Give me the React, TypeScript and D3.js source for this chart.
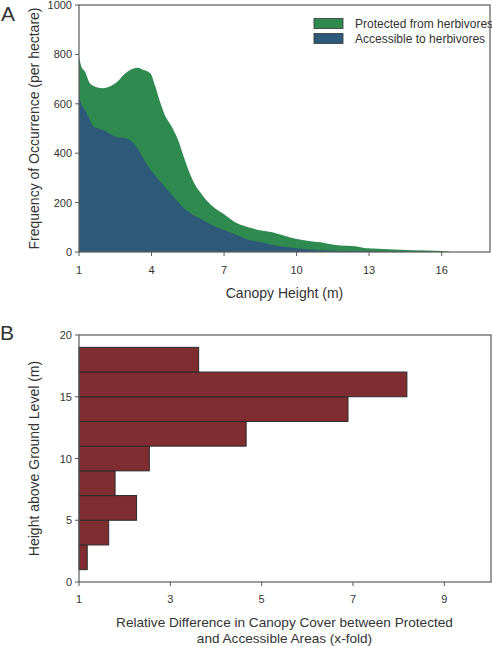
import React from "react";
import * as d3 from "d3";

const heights = [1, 1.1, 1.25, 1.45, 1.6, 2, 2.5, 3, 3.45, 3.6, 3.95, 4.15, 4.35, 4.55, 4.85, 5.1, 5.3, 5.7, 6.15, 6.55, 7, 7.5, 8, 8.6, 9, 9.5, 10, 10.5, 11, 11.6, 12.5, 12.9, 13.8, 14.8, 16, 16.4, 18];
const protectedFreq = [791, 750, 730, 683, 672, 663, 683, 730, 746, 740, 724, 672, 608, 555, 505, 453, 395, 291, 224, 183, 153, 118, 100, 86, 80, 66, 53, 45, 39, 28, 22, 15, 11, 7, 4, 0, 0];
const accessibleFreq = [629, 597, 575, 534, 507, 494, 467, 459, 415, 390, 335, 310, 286, 263, 230, 202, 181, 151, 129, 106, 89, 70, 50, 38, 28, 21, 15, 11, 8, 5, 4, 3, 2, 1, 0, 0, 0];
const aTicksX = [1, 4, 7, 10, 13, 16];
const aTicksY = [0, 200, 400, 600, 800, 1000];
const legendLabels = ["Protected from herbivores", "Accessible to herbivores"];

const binStart = [1, 3, 5, 7, 9, 11, 13, 15, 17];
const binEnd = [3, 5, 7, 9, 11, 13, 15, 17, 19];
const relDiff = [1.18, 1.65, 2.26, 1.79, 2.54, 4.66, 6.89, 8.18, 3.62];
const bTicksX = [1, 3, 5, 7, 9];
const bTicksY = [0, 5, 10, 15, 20];

const GREEN = "#2e8a4f";
const BLUE = "#2d5a78";
const RED = "#7f2d30";
const AXIS = "#5a5a5a";
const TEXT = "#333";
const FONT = "Arial, 'Liberation Sans', sans-serif";

export default function App() {
  const L = 79, R = 490;
  const aTop = 5, aBot = 252;
  const bTop = 335, bBot = 582;

  const xA = d3.scaleLinear().domain([1, 18]).range([L, R]);
  const yA = d3.scaleLinear().domain([0, 1000]).range([aBot, aTop]);
  const xB = d3.scaleLinear().domain([1, 10]).range([L, R]);
  const yB = d3.scaleLinear().domain([0, 20]).range([bBot, bTop]);

  const areaP = d3.area<number>()
    .x((_, i) => xA(heights[i]))
    .y0(yA(0))
    .y1((d) => yA(d))
    .curve(d3.curveMonotoneX);

  const tickLen = 4;

  return (
    <svg width={492} height={646} style={{ position: "absolute", left: 0, top: 0, fontFamily: FONT }}>
      <rect width={492} height={646} fill="#fff" />
      {/* Panel A */}
      <path d={areaP(protectedFreq) || ""} fill={GREEN} />
      <path d={areaP(accessibleFreq) || ""} fill={BLUE} />
      <rect x={L} y={aTop} width={R - L} height={aBot - aTop} fill="none" stroke={AXIS} strokeWidth={1.2} />
      {aTicksX.map((t) => (
        <g key={"ax" + t}>
          <line x1={xA(t)} x2={xA(t)} y1={aBot} y2={aBot + tickLen} stroke={AXIS} />
          <text x={xA(t)} y={aBot + 22} textAnchor="middle" fontSize={11} fill={TEXT}>{t}</text>
        </g>
      ))}
      {aTicksY.map((t) => (
        <g key={"ay" + t}>
          <line x1={L - tickLen} x2={L} y1={yA(t)} y2={yA(t)} stroke={AXIS} />
          <text x={L - 7} y={yA(t) + 4} textAnchor="end" fontSize={11} fill={TEXT}>{t}</text>
        </g>
      ))}
      <text x={(L + R) / 2} y={aBot + 46} textAnchor="middle" fontSize={14} fill={TEXT}>Canopy Height (m)</text>
      <text transform={`translate(38.5,${(aTop + aBot) / 2}) rotate(-90)`} textAnchor="middle" fontSize={14} fill={TEXT}>Frequency of Occurrence (per hectare)</text>
      <text x={1} y={21} fontSize={21} fill={TEXT}>A</text>
      {legendLabels.map((lab, i) => (
        <g key={lab}>
          <rect x={314} y={18.5 + i * 15} width={29} height={10} fill={i === 0 ? GREEN : BLUE} stroke="#333" strokeWidth={0.8} />
          <text x={355} y={27.5 + i * 15} fontSize={12} fill={TEXT}>{lab}</text>
        </g>
      ))}

      {/* Panel B */}
      {relDiff.map((v, i) => (
        <rect key={"b" + i} x={xB(1)} y={yB(binEnd[i])} width={xB(v) - xB(1)} height={yB(binStart[i]) - yB(binEnd[i])} fill={RED} stroke="#2a2a2a" strokeWidth={1} />
      ))}
      <rect x={L} y={bTop} width={R + 1 - L} height={bBot - bTop} fill="none" stroke={AXIS} strokeWidth={1.2} />
      {bTicksX.map((t) => (
        <g key={"bx" + t}>
          <line x1={xB(t)} x2={xB(t)} y1={bBot} y2={bBot + tickLen} stroke={AXIS} />
          <text x={xB(t)} y={bBot + 20.5} textAnchor="middle" fontSize={11} fill={TEXT}>{t}</text>
        </g>
      ))}
      {bTicksY.map((t) => (
        <g key={"by" + t}>
          <line x1={L - tickLen} x2={L} y1={yB(t)} y2={yB(t)} stroke={AXIS} />
          <text x={L - 7} y={yB(t) + 4} textAnchor="end" fontSize={11} fill={TEXT}>{t}</text>
        </g>
      ))}
      <text x={(L + R) / 2} y={627} textAnchor="middle" fontSize={13.6} fill={TEXT}>Relative Difference in Canopy Cover between Protected</text>
      <text x={(L + R) / 2} y={643} textAnchor="middle" fontSize={13.6} fill={TEXT}>and Accessible Areas (x-fold)</text>
      <text transform={`translate(38.5,${(bTop + bBot) / 2}) rotate(-90)`} textAnchor="middle" fontSize={14} fill={TEXT}>Height above Ground Level (m)</text>
      <text x={0} y={340} fontSize={21} fill={TEXT}>B</text>
    </svg>
  );
}
